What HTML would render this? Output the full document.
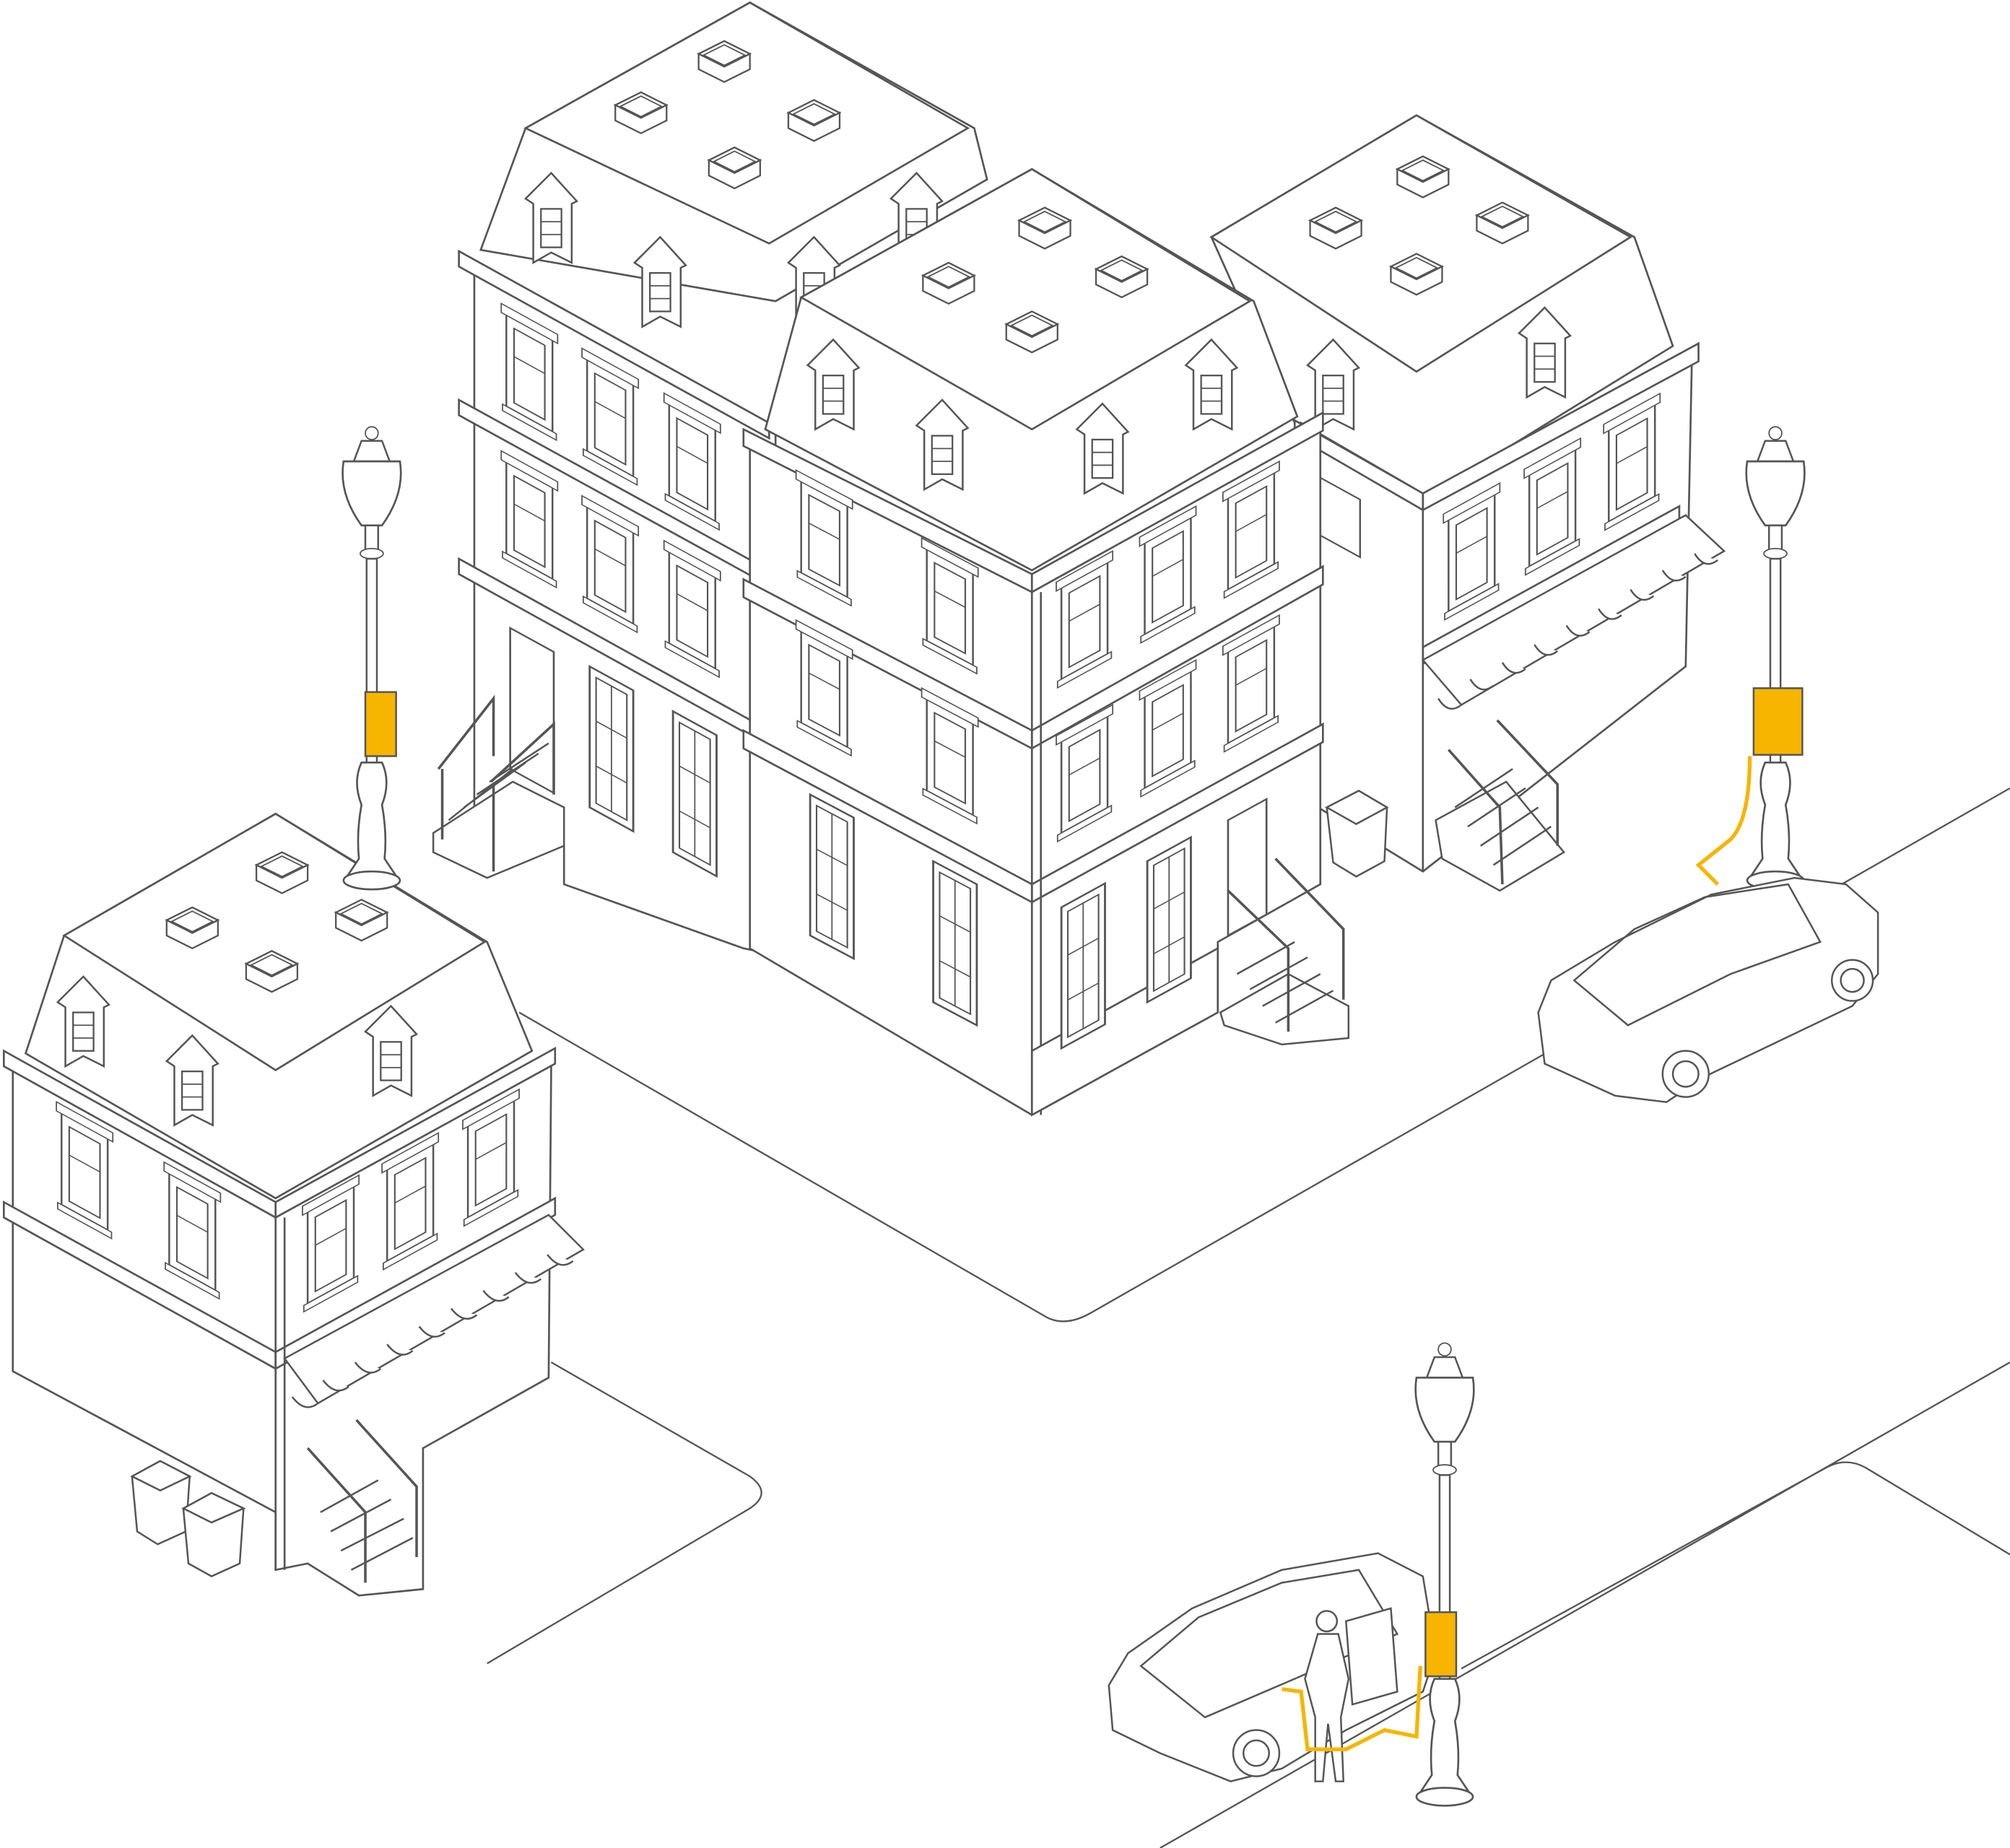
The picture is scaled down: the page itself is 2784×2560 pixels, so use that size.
<!DOCTYPE html>
<html><head><meta charset="utf-8"><style>
html,body{margin:0;padding:0;background:#fff}
svg{display:block}
</style></head><body>
<svg width="2784" height="2560" viewBox="0 0 1568 1442" preserveAspectRatio="none" xmlns="http://www.w3.org/2000/svg">
<defs>
<g id="wl"><rect x="0" y="0" width="36" height="72" fill="#fff" stroke="#555" stroke-width="1.4"/><rect x="6" y="8" width="24" height="58" fill="none" stroke="#555" stroke-width="1.2"/><line x1="6" y1="30" x2="30" y2="30" stroke="#555"/><rect x="-4" y="-6" width="44" height="7" fill="#fff" stroke="#555"/><rect x="-3" y="72" width="42" height="5" fill="#fff" stroke="#555"/></g>
<g id="wbig"><rect x="0" y="0" width="34" height="110" fill="#fff" stroke="#555" stroke-width="1.6"/><rect x="5" y="6" width="24" height="98" fill="none" stroke="#555" stroke-width="1.2"/><line x1="17" y1="6" x2="17" y2="104" stroke="#555"/><line x1="5" y1="40" x2="29" y2="40" stroke="#555"/><line x1="5" y1="75" x2="29" y2="75" stroke="#555"/></g>
<g id="box"><polygon points="0,10 20,0 40,10 20,20" fill="#fff" stroke="#555" stroke-width="1.3"/><polygon points="0,10 0,22 20,32 40,22 40,10 20,20" fill="#fff" stroke="#555" stroke-width="1.3"/><polygon points="4,11 20,3 36,11 20,19" fill="none" stroke="#555"/></g>
<g id="dorm"><polygon points="0,20 20,0 40,22 36,24 36,70 20,62 6,70 6,24" fill="#fff" stroke="#555" stroke-width="1.4"/><rect x="12" y="28" width="16" height="30" fill="none" stroke="#555" stroke-width="1.3"/><line x1="12" y1="38" x2="28" y2="38" stroke="#555"/><line x1="12" y1="48" x2="28" y2="48" stroke="#555"/></g>
<g id="lamp">
<circle cx="0" cy="-352" r="5" fill="#fff" stroke="#555"/>
<path d="M-8,-346 L8,-346 L14,-330 L-14,-330z" fill="#fff" stroke="#555" stroke-width="1.4"/>
<path d="M-22,-330 Q-26,-305 -8,-280 h16 Q26,-305 22,-330z" fill="#fff" stroke="#555" stroke-width="1.5"/>
<rect x="-5" y="-280" width="10" height="20" fill="#fff" stroke="#555" stroke-width="1.4"/>
<ellipse cx="0" cy="-258" rx="9" ry="4" fill="#fff" stroke="#555"/>
<rect x="-4" y="-254" width="8" height="160" fill="#fff" stroke="#555" stroke-width="1.4"/>
<path d="M-8,-95 Q-15,-80 -8,-62 Q-12,-40 -10,-20 L-20,-5 h40 L10,-20 Q12,-40 8,-62 Q15,-80 8,-95z" fill="#fff" stroke="#555" stroke-width="1.5"/>
<ellipse cx="0" cy="-3" rx="22" ry="7" fill="#fff" stroke="#555" stroke-width="1.5"/>
</g>
</defs>
<g fill="none" stroke="#555" stroke-width="1.3">
<path d="M405,790 L815,1027 Q830,1036 850,1025 L1568,615"/>
<path d="M430,1063 L585,1152 Q603,1165 585,1177 L380,1298"/>
<path d="M905,1442 L1568,1063"/>
<path d="M1140,1302 L1425,1145 Q1440,1137 1455,1145 L1568,1213"/>
</g>

<!-- Building A -->
<g stroke="#555" stroke-width="1.5" fill="#fff">
<polygon points="410,100 585,2 760,100 770,140 605,235 375,195"/>
<polygon points="410,100 585,2 755,100 600,190"/>
<polygon points="360,200 605,335 605,745 580,740 440,690 440,660 370,640 370,215"/>
<polygon points="358,196 600,330 600,342 358,208"/>
<polygon points="358,312 600,445 600,457 358,324"/>
<polygon points="358,436 600,570 600,582 358,448"/>
</g>
<use href="#box" x="480" y="72"/><use href="#box" x="545" y="32"/><use href="#box" x="615" y="78"/><use href="#box" x="553" y="115"/>
<use href="#dorm" x="410" y="135"/><use href="#dorm" x="495" y="185"/><use href="#dorm" x="615" y="185"/><use href="#dorm" x="695" y="135"/>
<g transform="matrix(1,0.55,0,1,395,245)"><use href="#wl"/></g>
<g transform="matrix(1,0.55,0,1,458,280)"><use href="#wl"/></g>
<g transform="matrix(1,0.55,0,1,522,315)"><use href="#wl"/></g>
<g transform="matrix(1,0.55,0,1,395,360)"><use href="#wl"/></g>
<g transform="matrix(1,0.55,0,1,458,395)"><use href="#wl"/></g>
<g transform="matrix(1,0.55,0,1,522,430)"><use href="#wl"/></g>
<g transform="matrix(1,0.55,0,1,460,520)"><use href="#wbig"/></g>
<g transform="matrix(1,0.55,0,1,525,555)"><use href="#wbig"/></g>
<g transform="matrix(1,0.55,0,1,398,490)"><rect width="34" height="110" fill="#fff" stroke="#555" stroke-width="1.5"/></g>
<g stroke="#555" stroke-width="1.4" fill="#fff">
<polygon points="338,650 400,610 440,630 440,660 380,685 338,665"/>
<path d="M350,640 L400,600 M362,630 L410,595 M372,620 L420,588 M382,610 L428,580" fill="none"/>
<path d="M342,600 L385,545 L385,590 M345,600 L345,655 M383,610 L432,565 L432,620 M385,612 L385,680" fill="none" stroke-width="2"/>
</g>

<!-- Building C -->
<g stroke="#555" stroke-width="1.5" fill="#fff">
<polygon points="945,185 1105,90 1275,185 1305,270 1110,390 1010,330"/>
<polygon points="945,185 1105,90 1272,185 1105,290"/>
<polygon points="1015,330 1110,385 1320,272 1315,520 1110,680 1020,625"/>
<polygon points="1010,328 1110,385 1110,398 1010,340"/>
<polygon points="1110,385 1325,268 1325,282 1110,398"/>
<polygon points="1110,505 1310,395 1310,408 1110,518"/>
<line x1="1110" y1="385" x2="1110" y2="680"/>
</g>
<use href="#box" x="1022" y="162"/><use href="#box" x="1090" y="122"/><use href="#box" x="1152" y="158"/><use href="#box" x="1085" y="198"/>
<use href="#dorm" x="1020" y="265"/><use href="#dorm" x="1185" y="240"/>
<g transform="matrix(1,0.55,0,1,1025,370)"><rect width="36" height="45" fill="#fff" stroke="#555" stroke-width="1.4"/></g>
<g transform="matrix(1,-0.55,0,1,1130,405)"><use href="#wl"/></g>
<g transform="matrix(1,-0.55,0,1,1193,370)"><use href="#wl"/></g>
<g transform="matrix(1,-0.55,0,1,1255,335)"><use href="#wl"/></g>
<g stroke="#555" stroke-width="1.4" fill="#fff">
<polygon points="1110,515 1315,402 1345,430 1140,550"/>
<path d="M1140,550 q-10,8 -18,-5 M1165,535 q-10,8 -18,-5 M1190,522 q-10,8 -18,-5 M1215,508 q-10,8 -18,-5 M1240,493 q-10,8 -18,-5 M1265,480 q-10,8 -18,-5 M1290,465 q-10,8 -18,-5 M1315,450 q-10,8 -18,-5 M1340,437 q-10,8 -18,-5"/>
<polygon points="1120,640 1175,610 1220,665 1170,695 1125,670"/>
<path d="M1135,630 L1180,600 M1145,645 L1190,615 M1155,660 L1200,630 M1165,675 L1210,645" fill="none"/>
<path d="M1130,585 L1170,630 L1172,690 M1168,562 L1215,612 L1215,660" fill="none" stroke-width="2"/>
</g>
<g stroke="#555" stroke-width="1.4" fill="#fff">
<polygon points="1035,630 1060,617 1082,630 1080,672 1058,684 1040,673"/>
<polygon points="1035,630 1060,617 1082,630 1058,643"/>
</g>

<!-- Building B -->
<g stroke="#555" stroke-width="1.5" fill="#fff">
<polygon points="625,232 805,132 978,235 1012,325 805,445 597,335"/>
<polygon points="625,232 805,132 975,235 805,335"/>
<polygon points="585,340 805,455 1030,330 1030,690 950,735 950,790 805,870 585,740"/>
<polygon points="580,335 805,448 805,462 580,348"/>
<polygon points="805,448 1032,322 1032,336 805,462"/>
<polygon points="580,452 805,570 805,584 580,466"/>
<polygon points="805,570 1032,442 1032,456 805,584"/>
<polygon points="580,570 805,690 805,704 580,584"/>
<polygon points="805,690 1032,565 1032,579 805,704"/>
<line x1="805" y1="462" x2="805" y2="870"/><line x1="812" y1="462" x2="812" y2="870"/>
<polygon points="805,820 950,740 950,790 805,870"/>
</g>
<use href="#box" x="720" y="205"/><use href="#box" x="795" y="162"/><use href="#box" x="855" y="200"/><use href="#box" x="785" y="243"/>
<use href="#dorm" x="630" y="265"/><use href="#dorm" x="715" y="312"/><use href="#dorm" x="840" y="315"/><use href="#dorm" x="925" y="265"/>
<g transform="matrix(1,0.53,0,1,625,375)"><use href="#wl"/></g>
<g transform="matrix(1,0.53,0,1,723,428)"><use href="#wl"/></g>
<g transform="matrix(1,0.53,0,1,625,492)"><use href="#wl"/></g>
<g transform="matrix(1,0.53,0,1,723,545)"><use href="#wl"/></g>
<g transform="matrix(1,0.53,0,1,632,620)"><use href="#wbig"/></g>
<g transform="matrix(1,0.53,0,1,728,672)"><use href="#wbig"/></g>
<g transform="matrix(1,-0.55,0,1,828,458)"><use href="#wl"/></g>
<g transform="matrix(1,-0.55,0,1,893,423)"><use href="#wl"/></g>
<g transform="matrix(1,-0.55,0,1,958,388)"><use href="#wl"/></g>
<g transform="matrix(1,-0.55,0,1,828,578)"><use href="#wl"/></g>
<g transform="matrix(1,-0.55,0,1,893,543)"><use href="#wl"/></g>
<g transform="matrix(1,-0.55,0,1,958,508)"><use href="#wl"/></g>
<g transform="matrix(1,-0.55,0,1,828,708)"><use href="#wbig"/></g>
<g transform="matrix(1,-0.55,0,1,895,672)"><use href="#wbig"/></g>
<g transform="matrix(1,-0.55,0,1,958,640)"><rect width="30" height="90" fill="#fff" stroke="#555" stroke-width="1.5"/></g>
<g stroke="#555" stroke-width="1.4" fill="#fff">
<polygon points="952,790 1005,760 1052,785 1052,810 1000,815 955,800"/>
<path d="M965,760 L1010,735 M975,772 L1020,747 M985,785 L1030,760 M995,798 L1040,773" fill="none"/>
<path d="M958,695 L1005,740 L1005,805 M995,670 L1048,725 L1048,780" fill="none" stroke-width="2"/>
</g>

<!-- Building D -->
<g stroke="#555" stroke-width="1.5" fill="#fff">
<polygon points="50,730 215,635 380,735 415,820 215,935 20,822"/>
<polygon points="50,730 215,635 378,735 215,835"/>
<polygon points="10,835 215,950 430,830 428,1075 330,1130 330,1240 280,1245 240,1220 215,1225 215,1180 10,1070"/>
<polygon points="3,820 215,938 215,950 3,832"/>
<polygon points="215,938 433,818 433,830 215,950"/>
<polygon points="3,938 215,1055 215,1068 3,950"/>
<polygon points="215,1055 433,935 433,948 215,1068"/>
<line x1="215" y1="950" x2="215" y2="1225"/><line x1="222" y1="950" x2="222" y2="1225"/>
</g>
<use href="#box" x="130" y="708"/><use href="#box" x="200" y="665"/><use href="#box" x="262" y="702"/><use href="#box" x="192" y="742"/>
<use href="#dorm" x="45" y="762"/><use href="#dorm" x="130" y="808"/><use href="#dorm" x="285" y="785"/>
<g transform="matrix(1,0.55,0,1,48,868)"><use href="#wl"/></g>
<g transform="matrix(1,0.55,0,1,132,915)"><use href="#wl"/></g>
<g transform="matrix(1,-0.55,0,1,240,945)"><use href="#wl"/></g>
<g transform="matrix(1,-0.55,0,1,302,912)"><use href="#wl"/></g>
<g transform="matrix(1,-0.55,0,1,365,878)"><use href="#wl"/></g>
<g stroke="#555" stroke-width="1.4" fill="#fff">
<polygon points="222,1060 428,948 455,975 248,1095"/>
<path d="M248,1095 q-10,8 -20,-5 M272,1082 q-10,8 -20,-5 M297,1068 q-10,8 -20,-5 M322,1054 q-10,8 -20,-5 M347,1040 q-10,8 -20,-5 M372,1026 q-10,8 -20,-5 M397,1012 q-10,8 -20,-5 M422,998 q-10,8 -20,-5 M447,984 q-10,8 -20,-5"/>
<path d="M250,1180 L295,1155 M258,1195 L305,1170 M266,1210 L315,1185 M274,1225 L322,1200" fill="none"/>
<path d="M240,1130 L285,1180 L285,1235 M278,1108 L325,1160 L325,1215" fill="none" stroke-width="2"/>
<polygon points="103,1152 125,1140 148,1152 145,1195 123,1205 107,1195"/>
<polygon points="103,1152 125,1140 148,1152 125,1163"/>
<polygon points="143,1177 165,1165 190,1177 187,1220 165,1230 147,1220"/>
<polygon points="143,1177 165,1165 190,1177 165,1188"/>
</g>

<!-- Lamps -->
<use href="#lamp" x="290" y="690"/>
<use href="#lamp" x="1385" y="690"/>
<g stroke="#555" stroke-width="1.4" fill="#f7b500">
<rect x="285" y="540" width="24" height="50"/>
<rect x="1368" y="537" width="38" height="52"/>
</g>

<!-- Right car -->
<g stroke="#555" stroke-width="1.4" fill="#fff">
<path d="M1200,790 L1210,765 L1260,735 L1335,698 L1400,685 L1440,690 L1465,712 L1465,760 L1445,785 L1330,840 L1300,860 L1260,855 L1205,830z"/>
<path d="M1228,765 L1275,725 L1330,700 L1395,690 L1420,735 L1350,760 L1270,800z" fill="none"/>
<circle cx="1315" cy="838" r="18"/><circle cx="1315" cy="838" r="10"/>
<circle cx="1445" cy="765" r="16"/><circle cx="1445" cy="765" r="9"/>
</g>
<path d="M1365,590 Q1365,640 1350,655 L1325,675 L1340,690" stroke="#f7b500" stroke-width="3" fill="none"/>

<!-- Bottom car -->
<g stroke="#555" stroke-width="1.4" fill="#fff">
<path d="M865,1315 L880,1290 L930,1255 L1000,1225 L1075,1212 L1110,1230 L1120,1290 L1110,1320 L1050,1350 L1000,1380 L960,1390 L905,1368 L868,1350z"/>
<path d="M890,1300 L935,1262 L1000,1235 L1060,1225 L1090,1275 L1010,1310 L940,1340z" fill="none"/>
<circle cx="980" cy="1368" r="18"/><circle cx="980" cy="1368" r="10"/>
<path d="M1050,1265 L1085,1255 L1090,1320 L1055,1330z"/>
</g>
<use href="#lamp" x="1127" y="1405"/>
<rect x="1112" y="1258" width="24" height="50" fill="#f7b500" stroke="#555" stroke-width="1.4"/>
<g stroke="#555" stroke-width="1.4" fill="#fff">
<circle cx="1035" cy="1265" r="8"/>
<path d="M1028,1275 h16 l8,35 l-6,30 l2,50 h-6 l-6,-45 l-4,45 h-6 l0,-50 l-8,-30z"/>
</g>
<path d="M1108,1300 L1105,1355 L1080,1350 L1050,1365 L1020,1365 L1015,1320 L1000,1318" stroke="#f7b500" stroke-width="3" fill="none"/>
</svg>
</body></html>
